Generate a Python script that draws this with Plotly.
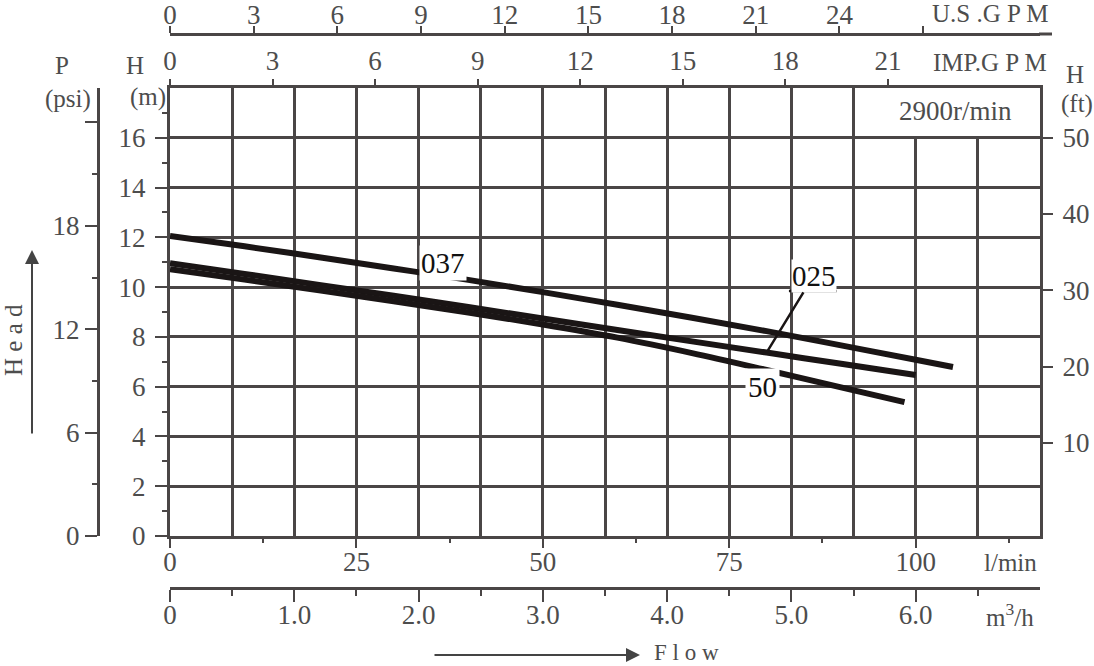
import plotly.graph_objects as go

# Pump curves at 2900 r/min: flow (l/min) vs head (m)
flow_037 = [0, 10, 20, 30, 40, 50, 60, 70, 80, 90, 100, 105]
head_037 = [12.05, 11.64, 11.20, 10.75, 10.29, 9.80, 9.29, 8.77, 8.23, 7.66, 7.08, 6.79]

flow_025 = [0, 10, 20, 30, 40, 50, 60, 70, 80, 90, 100]
head_025 = [10.96, 10.53, 10.09, 9.65, 9.20, 8.74, 8.28, 7.82, 7.37, 6.92, 6.47]

flow_50 = [0, 10, 20, 30, 40, 50, 60, 70, 80, 90, 98.5]
head_50 = [10.72, 10.30, 9.87, 9.43, 8.98, 8.50, 7.97, 7.35, 6.67, 5.97, 5.38]

# axis ticks
lmin_ticks = [0, 25, 50, 75, 100]
m3h_ticks = [0, 1, 2, 3, 4, 5, 6]
m3h_labels = ["0", "1.0", "2.0", "3.0", "4.0", "5.0", "6.0"]
imp_ticks = [0, 3, 6, 9, 12, 15, 18, 21]
us_ticks = [0, 3, 6, 9, 12, 15, 18, 21, 24, 27]
us_labels = ["0", "3", "6", "9", "12", "15", "18", "21", "24", ""]
head_m_ticks = [0, 2, 4, 6, 8, 10, 12, 14, 16]
head_m_minor = [1, 3, 5, 7, 9, 11, 13, 15, 17]
head_ft_ticks = [10, 20, 30, 40, 50]
psi_ticks = [0, 6, 12, 18, 24]
psi_labels = ["0", "6", "12", "18", ""]
psi_minor = [3, 9, 15, 21]

FLOW_MAX = 116.67  # = 7 m3/h
W, H = 1094, 666
FONT = "Liberation Serif"
GRID = "#4a4646"
TXT = "#4d4d4d"
CURVE = "#1a1515"


def px(x):
    return x / W


def py(y):
    return 1 - y / H


fig = go.Figure()
for fx, hy in [(flow_037, head_037), (flow_025, head_025), (flow_50, head_50)]:
    fig.add_trace(go.Scatter(x=fx, y=hy, mode="lines", line=dict(color=CURVE, width=6, shape="spline"),
                             showlegend=False, hoverinfo="skip"))

# empty traces so every extra axis gets drawn
for xa, ya in [("x2", "y"), ("x3", "y"), ("x4", "y"), ("x5", "y"), ("x", "y2"), ("x", "y3")]:
    fig.add_trace(go.Scatter(x=[None], y=[None], xaxis=xa, yaxis=ya, showlegend=False, hoverinfo="skip"))

dom_x = [px(170), px(1040)]
dom_y = [py(536), py(88)]
tf = dict(family=FONT, size=27, color=TXT)

fig.update_layout(
    width=W, height=H, autosize=False,
    margin=dict(l=0, r=0, t=0, b=0, autoexpand=False),
    paper_bgcolor="white", plot_bgcolor="white",
    showlegend=False,
    font=dict(family=FONT, color=TXT),
    xaxis=dict(domain=dom_x, range=[0, FLOW_MAX], tickvals=lmin_ticks, ticks="outside", ticklen=9,
               tickwidth=2, tickcolor=GRID, showline=True, linecolor=GRID, linewidth=3, mirror=True,
               showgrid=True, gridcolor=GRID, gridwidth=2.5, zeroline=False, tickfont=tf,
               automargin=False, ticklabelstandoff=-9,
               minor=dict(tickmode="linear", tick0=0, dtick=FLOW_MAX / 14, showgrid=True,
                          gridcolor=GRID, gridwidth=2.5, ticks="")),
    xaxis3=dict(overlaying="x", anchor="y", side="bottom", range=[0, FLOW_MAX], tickmode="linear",
                tick0=12.5, dtick=25, ticks="outside", ticklen=6, tickwidth=2, tickcolor=GRID,
                showticklabels=False, showgrid=False, showline=False, zeroline=False,
                automargin=False),
    xaxis2=dict(overlaying="x", anchor="free", position=py(588), side="bottom", range=[0, 7],
                tickvals=m3h_ticks, ticktext=m3h_labels, ticks="outside", ticklen=12, tickwidth=2,
                tickcolor=GRID, showline=True, linecolor=GRID, linewidth=3, showgrid=False,
                zeroline=False, tickfont=tf, automargin=False, ticklabelstandoff=-10,
                minor=dict(tickmode="linear", tick0=0.5, dtick=1, ticks="outside", ticklen=6,
                           tickwidth=2, tickcolor=GRID, showgrid=False)),
    xaxis4=dict(overlaying="x", anchor="y", side="top", range=[0, 25.45], tickvals=imp_ticks,
                ticks="outside", ticklen=8, tickwidth=2, tickcolor=GRID, showline=False,
                showgrid=False, zeroline=False, tickfont=tf, ticklabelstandoff=-2,
                automargin=False),
    xaxis5=dict(overlaying="x", anchor="free", position=py(34), side="top", range=[0, 31.19],
                tickvals=us_ticks, ticktext=us_labels, ticks="outside", ticklen=7, tickwidth=2,
                tickcolor=GRID, showline=True, linecolor=GRID, linewidth=3, showgrid=False,
                zeroline=False, tickfont=tf, automargin=False, ticklabelstandoff=-9),
    yaxis=dict(domain=dom_y, range=[0, 18], tickvals=head_m_ticks, ticks="outside", ticklen=12,
               tickwidth=2, tickcolor=GRID, showline=True, linecolor=GRID, linewidth=3, mirror=True,
               showgrid=True, gridcolor=GRID, gridwidth=2.5, zeroline=False, tickfont=tf,
               ticklabelstandoff=4, automargin=False,
               minor=dict(tickvals=head_m_minor, ticks="outside", ticklen=5, tickwidth=2,
                          tickcolor=GRID, showgrid=False)),
    yaxis2=dict(overlaying="y", anchor="x", side="right", range=[-2.2, 56.5], tickvals=head_ft_ticks,
                ticks="outside", ticklen=12, tickwidth=2, tickcolor=GRID, showline=False,
                showgrid=False, zeroline=False, tickfont=tf, ticklabelstandoff=4,
                automargin=False),
    yaxis3=dict(overlaying="y", anchor="free", position=px(98), side="left", range=[0, 26.0],
                tickvals=psi_ticks, ticktext=psi_labels, ticks="outside", ticklen=12, tickwidth=2,
                tickcolor=GRID, showline=True, linecolor=GRID, linewidth=3, showgrid=False,
                zeroline=False, tickfont=tf, automargin=False,
                minor=dict(tickvals=psi_minor, ticks="outside", ticklen=5, tickwidth=2,
                           tickcolor=GRID, showgrid=False)),
)

# white panel behind the speed label (covers the grid only)
fig.add_shape(type="rect", xref="x", yref="y", x0=FLOW_MAX / 14 * 11 + 0.25, x1=FLOW_MAX,
              y0=16.07, y1=18, fillcolor="white", line=dict(width=0), layer="between")
# underline under "025"
fig.add_shape(type="line", xref="x", yref="y", x0=83.0, x1=89.4, y0=9.84, y1=9.84,
              line=dict(color=CURVE, width=2.5), layer="above")
# US GPM axis line runs a bit past the frame
fig.add_shape(type="line", xref="paper", yref="paper", x0=px(1039), x1=px(1052), y0=py(34), y1=py(34),
              line=dict(color=GRID, width=3))

ann = []
lab = dict(family=FONT, size=29, color="#111111")
ann.append(dict(x=36.6, y=10.96, xref="x", yref="y", text="037", showarrow=False,
                bgcolor="white", borderpad=1, font=lab))
ann.append(dict(x=79.4, y=5.98, xref="x", yref="y", text="50", showarrow=False,
                bgcolor="white", borderpad=2, font=lab))
ann.append(dict(x=flow_025[8], y=head_025[8], xref="x", yref="y", text="025", showarrow=True,
                arrowhead=0, arrowwidth=2.5, arrowcolor=CURVE, axref="x", ayref="y",
                ax=86.3, ay=10.45, bgcolor="white", borderpad=0, font=lab, standoff=0))
ann.append(dict(x=105.3, y=17.07, xref="x", yref="y", text="2900r/min", showarrow=False,
                font=dict(family=FONT, size=27, color=TXT)))

small = dict(family=FONT, size=25, color=TXT)
for x, y, t in [(62, 66, "P"), (68, 99, "(psi)"), (135, 66, "H"), (148, 97, "(m)"),
                (1075, 75, "H"), (1077, 104, "(ft)"),
                (990, 14, "U.S .G P M"), (990, 62, "IMP.G P M"),
                (1010, 562, "l/min"), (1010, 615, "m<sup>3</sup>/h")]:
    ann.append(dict(x=px(x), y=py(y), xref="paper", yref="paper", text=t, showarrow=False,
                    xanchor="center", yanchor="middle", font=small))
ann.append(dict(x=px(686), y=py(652), xref="paper", yref="paper", text="F l o w", showarrow=False,
                xanchor="center", yanchor="middle", font=dict(family=FONT, size=23, color=TXT)))
ann.append(dict(x=px(13), y=py(340), xref="paper", yref="paper", text="H e a d", textangle=-90,
                xanchor="center", yanchor="middle", showarrow=False, font=small))
# direction arrows
ann.append(dict(x=px(32), y=py(250), xref="paper", yref="paper", ax=0, ay=185, text="",
                showarrow=True, arrowhead=2, arrowsize=1.4, arrowwidth=2, arrowcolor="#444"))
ann.append(dict(x=px(640), y=py(655), xref="paper", yref="paper", ax=-207, ay=0, text="",
                showarrow=True, arrowhead=2, arrowsize=1.4, arrowwidth=2, arrowcolor="#444"))
fig.update_layout(annotations=ann)

# drop the browser's default page margin so the figure sits at the window's corner
fig.write_html("out.html", config={"displayModeBar": False},
               post_script="document.body.style.margin='0px';")
